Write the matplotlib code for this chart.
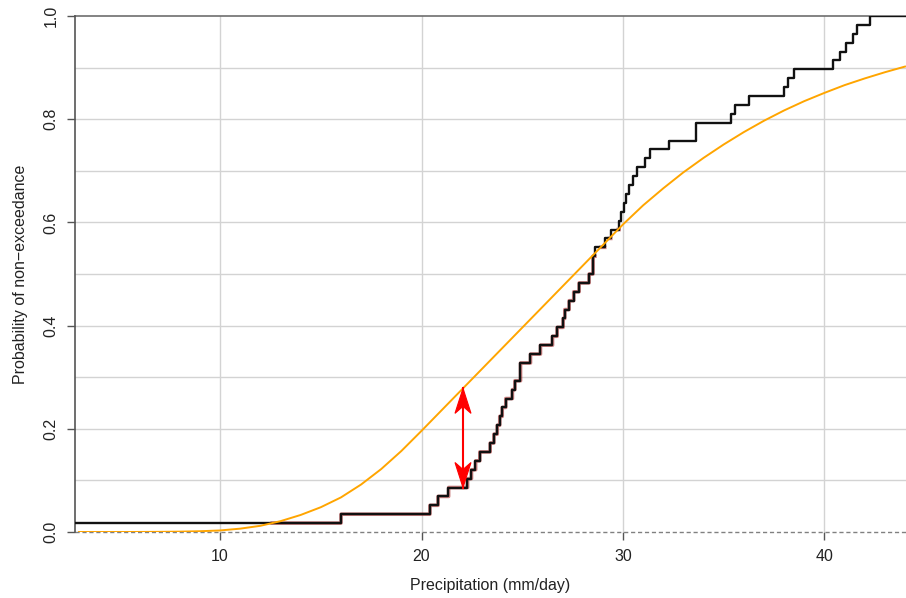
import matplotlib
matplotlib.use("Agg")
import matplotlib.pyplot as plt
from matplotlib.patches import Polygon
from matplotlib.transforms import IdentityTransform
import numpy as np

plt.rcParams['font.family'] = ['Liberation Sans', 'DejaVu Sans']

# sorted sample (mm/day) (58 values)
precip = [2.8, 16.0, 20.41, 20.82, 21.34, 22.28, 22.48, 22.68, 22.89, 23.40,
          23.59, 23.75, 23.88, 24.00, 24.18, 24.51, 24.63, 24.91, 24.91, 25.41,
          25.90, 26.50, 26.73, 27.02, 27.11, 27.32, 27.55, 27.82, 28.31, 28.51,
          28.51, 28.60, 29.09, 29.39, 29.80, 29.92, 30.05, 30.17, 30.29, 30.49,
          30.69, 31.07, 31.32, 32.31, 33.64, 33.64, 35.37, 35.58, 36.28, 38.01,
          38.18, 38.51, 40.41, 40.79, 41.07, 41.44, 41.60, 42.28]

# fitted distribution (orange), read every 1 mm/day
fit_x = list(range(3, 45))
fit_p = [0.0, 0.0, 0.0, 0.0001, 0.0003, 0.0007, 0.0015, 0.003, 0.0065, 0.012,
         0.021, 0.033, 0.048, 0.067, 0.092, 0.122, 0.157, 0.196, 0.236, 0.276,
         0.316, 0.356, 0.396, 0.436, 0.476, 0.516, 0.556, 0.596, 0.633, 0.666,
         0.697, 0.725, 0.751, 0.775, 0.797, 0.817, 0.835, 0.851, 0.866, 0.879,
         0.891, 0.902]

arrow_x = 22.06

xmin, xmax = 2.8, 44.05
x_ticks = [10, 20, 30, 40]
y_ticks = [0.0, 0.2, 0.4, 0.6, 0.8, 1.0]

fig = plt.figure(figsize=(9.06, 5.98), dpi=100)
ax = fig.add_axes([75/906, 66/598, 1 - 75/906, (532-16)/598])

# grid
for gx in x_ticks:
    ax.axvline(gx, color='#d3d3d3', lw=1, zorder=0)
for gy in np.arange(0.1, 1.0, 0.1):
    ax.axhline(gy, color='#d3d3d3', lw=1, zorder=0)
ax.axhline(0, color='#808080', lw=1, ls=(0, (3, 2)), zorder=1, clip_on=False)
ax.axhline(1, color='#6e6e6e', lw=1.2, zorder=1, clip_on=False)

# empirical cdf
n = len(precip)
xs = np.array(precip + [xmax])
ys = np.arange(1, n + 2) / n
ys[-1] = 1.0
fx = np.array(fit_x, float)
fp = np.array(fit_p)

# dark red under-stroke where the ecdf lies below the fit
xx = np.linspace(xmin, xmax, 4000)
ecdf_xx = np.searchsorted(np.array(precip), xx, side='right') / n
below = ecdf_xx < np.interp(xx, fx, fp)
ex = np.where(below, ecdf_xx, np.nan)
ax.plot(xx, ex, color='#a01818', lw=2.6, alpha=0.55, zorder=2,
        drawstyle='steps-post')

ax.step(xs, ys, where='post', color='#111111', lw=1.7, zorder=3)

# fitted cdf
ax.plot(fx, fp, color='#FFA500', lw=1.4, zorder=4)

ax.set_xlim(xmin, xmax)
ax.set_ylim(0, 1)

# double arrow between the two curves, with notched heads (R style)
y_lo = np.searchsorted(np.array(precip), arrow_x, side='right') / n
y_hi = np.interp(arrow_x, fx, fp)
ax.plot([arrow_x, arrow_x], [y_lo, y_hi], color='red', lw=1.5, zorder=5)
px_hi = ax.transData.transform((arrow_x, y_hi))
px_lo = ax.transData.transform((arrow_x, y_lo))
head_len, head_half, notch = 25, 8, 18
for tip, d in ((px_hi, -1), (px_lo, 1)):
    tx, ty = tip
    verts = [(tx, ty), (tx - head_half, ty + d * head_len),
             (tx, ty + d * notch), (tx + head_half, ty + d * head_len)]
    ax.add_patch(Polygon(verts, closed=True, facecolor='red', edgecolor='red',
                         lw=0.8, transform=IdentityTransform(), zorder=6))

for s in ['top', 'right', 'bottom']:
    ax.spines[s].set_visible(False)
ax.spines['left'].set_color('#555555')
ax.spines['left'].set_linewidth(1.2)

ax.set_xticks(x_ticks)
ax.set_yticks(y_ticks)
ax.set_yticklabels([f'{v:.1f}' for v in y_ticks], rotation=90, va='center')
ax.tick_params(axis='both', length=6, width=1, color='#555555',
               labelsize=11.5, labelcolor='#222222', pad=6)

ax.set_xlabel('Precipitation (mm/day)', fontsize=11.5, color='#222222', labelpad=10)
ax.set_ylabel('Probability of non\u2212exceedance', fontsize=11.5, color='#222222',
              labelpad=11)

fig.savefig('out.png', dpi=100)
